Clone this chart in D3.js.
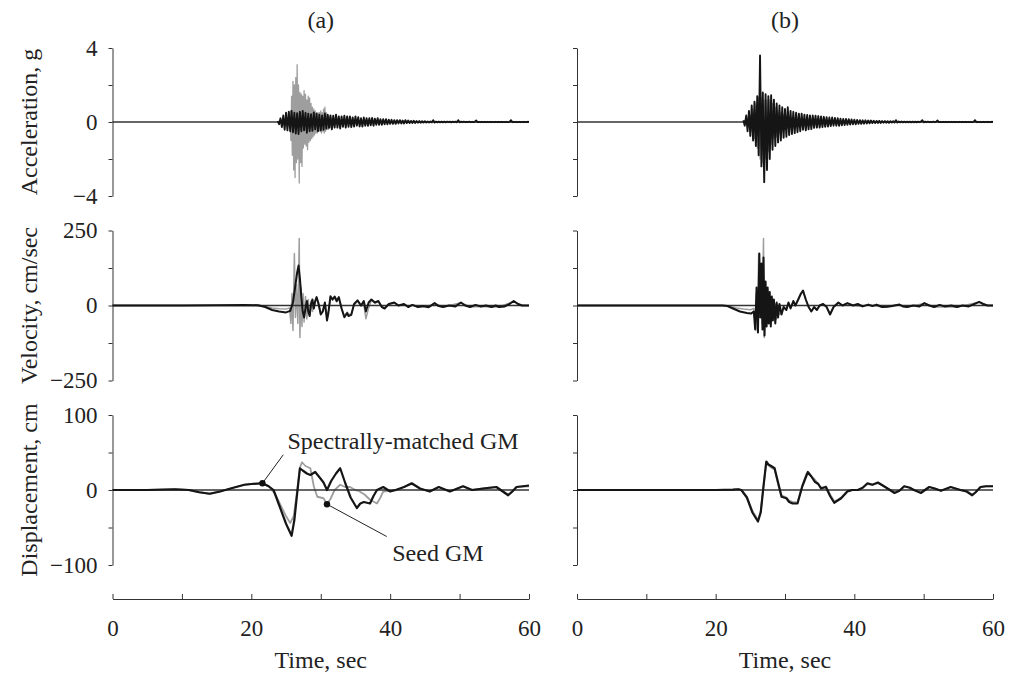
<!DOCTYPE html>
<html lang="en">
<head>
<meta charset="UTF-8">
<title>Seed GM vs spectrally-matched GM</title>
<script src="https://d3js.org/d3.v7.min.js"></script>
<style>
  body { margin: 0; background: #fff; }
  svg { display: block; }
  text { font-family: "Liberation Serif", "DejaVu Serif", serif; fill: #222; }
  .axis path, .axis line { stroke: #333; stroke-width: 1; fill: none; }
  .axis text { font-size: 23px; fill: #222; }
</style>
</head>
<body>
<svg width="1010" height="675"></svg>
<script>
// ---- data ----
const timeTicks = [0, 10, 20, 30, 40, 50, 60];
const timeTickLabels = [0, 20, 40, 60];
const accTicks = [-4, -2, 0, 2, 4];
const velTicks = [-250, -125, 0, 125, 250];
const dispTicks = [-100, -50, 0, 50, 100];

// acceleration (g), regularly sampled
const accDt = 0.2;
const accAMatchedStart = 23.8;
const accAMatched = [
  0.05, -0.12, 0.2, -0.28, 0.35, -0.42, 0.5, -0.45, 0.55, -0.5,
  0.6, -0.55, 0.5, -0.62, 0.48, -0.65, 0.55, -0.5, 0.6, -0.45,
  0.5, -0.58, 0.45, -0.5, 0.42, -0.48, 0.52, -0.4, 0.45, -0.5,
  0.4, -0.45, 0.36, -0.42, 0.46, -0.36, 0.4, -0.32, 0.36, -0.4,
  0.34, -0.3, 0.4, -0.3, 0.3, -0.35, 0.3, -0.26, 0.34, -0.3,
  0.3, -0.26, 0.3, -0.28, 0.25, -0.25, 0.3, -0.2, 0.26, -0.24,
  0.2, -0.25, 0.24, -0.2, 0.2, -0.2, 0.2, -0.18, 0.22, -0.2,
  0.18, -0.15, 0.2, -0.15, 0.15, -0.15, 0.15, -0.12, 0.15, -0.12,
  0.12, -0.1, 0.12, -0.1, 0.1, -0.1, 0.1, -0.08, 0.1, -0.08,
  0.08, -0.08, 0.1, -0.06, 0.08, -0.06, 0.06, -0.05, 0.07, -0.05,
  0.05, -0.04, 0.05, -0.04, 0.04, -0.03, 0.04, -0.03, 0.03, -0.03,
  0.03, -0.02, 0.1, -0.03, 0.02, -0.02, 0.02, -0.02, 0.02, -0.02,
  0.02, -0.02, 0.02, -0.01, 0.02, -0.02, 0.02, -0.01, 0.02, -0.02,
  0.1, -0.02, 0.02, -0.01, 0.02, -0.01, 0.01, -0.01, 0.02, -0.01,
  0.01, -0.01, 0.01, 0.08, -0.01, 0.01, -0.01, 0.01, -0.01, 0.01,
  -0.01, 0.01, -0.01, 0.01, -0.01, 0.01, -0.01, 0.01, -0.01, 0.01,
  -0.01, 0.01, -0.01, 0.01, -0.01, 0.01, -0.01, 0.01, 0.1, -0.01,
  0.01, -0.01, 0.01, -0.01, 0.01, -0.01, 0.01, -0.01, 0.01, -0.01,
  0.01, 0
];
const accASeedStart = 25.4;
const accASeedDt = 0.1;
const accASeed = [
  0.1, -0.3, 0.6, -1.0, 1.4, -1.8, 2.2, -2.6, 2.0, -3.0,
  2.4, -2.2, 3.1, -2.0, 2.0, -3.3, 1.6, -2.2, 1.5, -2.4,
  1.4, -1.4, 1.7, -1.2, 1.5, -1.3, 1.2, -1.5, 1.4, -1.1,
  1.3, -1.0, 1.0, -0.9, 0.8, -0.8, 0.7, -0.7, 0.6, -0.6,
  0.5, -0.6, 0.5, -0.5, 0.5, -0.5, 0.6, -0.6, 0.5, -0.5,
  0.7, -0.6, 0.8, -0.5, 0.5, -0.4, 0.4, -0.4, 0.3, -0.3,
  0.3, -0.3, 0.2, -0.2, 0.2, -0.2, 0.1, -0.1, 0.05, 0
];
const accBMatchedStart = 24.0;
const accBMatched = [
  0.1, -0.2, 0.35, -0.5, 0.6, -0.75, 0.9, -1.0, 1.1, -1.3,
  1.4, -1.8, 3.6, -2.4, 1.6, -3.25, 1.5, -2.6, 1.4, -2.0,
  1.45, -1.5, 1.2, -1.3, 1.0, -1.1, 0.9, -1.0, 0.8, -0.85,
  0.7, -0.8, 0.8, -0.7, 0.6, -0.65, 0.55, -0.6, 0.5, -0.55,
  0.45, -0.5, 0.45, -0.42, 0.4, -0.45, 0.38, -0.4, 0.36, -0.38,
  0.35, -0.32, 0.34, -0.3, 0.32, -0.3, 0.3, -0.28, 0.28, -0.26,
  0.26, -0.25, 0.24, -0.22, 0.24, -0.2, 0.22, -0.2, 0.2, -0.2,
  0.18, -0.18, 0.17, -0.16, 0.16, -0.15, 0.15, -0.14, 0.14, -0.12,
  0.12, -0.12, 0.11, -0.1, 0.1, -0.1, 0.09, -0.09, 0.09, -0.08,
  0.08, -0.07, 0.08, -0.06, 0.07, -0.06, 0.06, -0.05, 0.06, -0.05,
  0.05, -0.04, 0.05, -0.04, 0.04, -0.04, 0.04, -0.03, 0.04, -0.03,
  0.1, -0.03, 0.03, -0.02, 0.03, -0.02, 0.02, -0.02, 0.02, -0.02,
  0.02, -0.02, 0.02, -0.02, 0.02, -0.02, 0.02, -0.01, 0.02, 0.1,
  -0.02, 0.02, -0.01, 0.02, -0.01, 0.01, -0.01, 0.02, -0.01, 0.01,
  0.08, -0.01, 0.01, -0.01, 0.01, -0.01, 0.01, -0.01, 0.01, -0.01,
  0.01, -0.01, 0.01, -0.01, 0.01, -0.01, 0.01, -0.01, 0.01, -0.01,
  0.01, -0.01, 0.01, -0.01, 0.01, -0.01, 0.01, 0.1, -0.01, 0.01,
  -0.01, 0.01, -0.01, 0.01, -0.01, 0.01, -0.01, 0.01, -0.01, 0.01,
  0
];
const accBSeedStart = 25.0;
const accBSeed = [
  0.3, -0.5, 0.7, -0.9, 1.0, -1.4, 1.3, -2.0, 1.3, -2.2,
  1.2, -2.0, 1.2, -1.6, 1.2, -1.2, 1.0, -0.9, 0.8, -0.8,
  0.6, -0.6, 0.5, -0.5, 0.4, -0.4, 0.3, -0.3, 0.2, -0.2, 0
];

// velocity (cm/sec), [time, value]
const velAMatched = [[0,0],[10,0],[15,1],[19,2],[21,1],[22,-5],[23,-15],[24,-20],[25,-23],[25.6,-18],
  [26.0,10],[26.3,60],[26.6,110],[26.8,133],[27.0,90],[27.2,30],[27.4,-20],[27.6,-40],[27.8,-10],[28.0,15],
  [28.2,-20],[28.4,-35],[28.6,5],[28.8,20],[29.0,-10],[29.2,15],[29.4,28],[29.7,5],[30.0,-30],[30.3,-20],
  [30.6,10],[30.9,-50],[31.1,-25],[31.4,31],[31.7,20],[32.0,30],[32.3,15],[32.6,28],[33.0,-10],[33.4,-39],
  [33.8,-25],[34.0,-35],[34.4,-31],[34.8,5],[35.3,17],[35.8,0],[36.2,15],[36.5,-20],[36.9,10],[37.3,20],
  [37.8,10],[38.3,15],[38.8,-5],[39.2,-10],[39.8,5],[40.6,10],[41.2,0],[42.0,5],[42.6,-5],[43.2,2],
  [44,-5],[44.8,-2],[45.5,-6],[46.4,8],[47,-2],[47.6,-5],[48.5,0],[49.4,-3],[50.2,10],[50.8,0],
  [51.5,-5],[52.3,2],[53,-3],[53.8,0],[54.6,-5],[55.2,0],[55.7,-5],[56.5,-3],[57.2,5],[57.8,15],
  [58.4,5],[59.0,0],[60,0]];
const velASeed = [[0,0],[20,0],[22,-3],[23,-8],[24,-11],[25,-12],[25.5,-8],[25.7,-60],[25.85,40],[26.0,-83],
  [26.2,173],[26.35,-40],[26.5,70],[26.7,-60],[26.9,223],[27.0,-107],[27.15,60],[27.3,-70],[27.45,40],[27.6,-55],
  [27.8,30],[28.0,-45],[28.2,20],[28.4,-35],[28.6,15],[28.8,-20],[29.0,5],[29.4,25],[29.7,0],[30.0,-28],
  [30.3,-15],[30.6,8],[30.9,-45],[31.1,-20],[31.4,28],[31.7,18],[32.0,26],[32.3,12],[32.6,24],[33.0,-8],
  [33.4,-35],[33.8,-22],[34.0,-30],[34.4,-28],[34.8,2],[35.3,14],[35.8,-2],[36.2,5],[36.5,-44],[36.9,-8],
  [37.3,18],[37.8,8],[38.3,12],[38.8,-5],[39.2,-8],[39.8,4],[40.6,8],[41.2,0],[42,4],[42.6,-5],
  [43.2,2],[44,-5],[45.5,-5],[46.4,7],[47.6,-5],[48.5,0],[50.2,9],[51.5,-5],[53,-3],[54.6,-5],
  [55.7,-5],[57.8,14],[59,0],[60,0]];
const velBMatched = [[0,0],[21,0],[21.7,-2],[22.5,-10],[23.5,-20],[24.5,-25],[25.1,-27],[25.5,-20],[25.7,-80],[25.9,60],
  [26.1,-90],[26.3,173],[26.45,-40],[26.6,140],[26.75,-80],[26.9,160],[27.05,-100],[27.2,80],[27.35,-70],[27.5,60],
  [27.65,-60],[27.8,45],[27.95,-70],[28.1,30],[28.25,-50],[28.4,20],[28.6,-60],[28.8,10],[29.0,-40],[29.2,5],
  [29.5,-30],[29.8,-5],[30.2,-15],[30.5,10],[30.8,-10],[31.2,15],[31.5,0],[31.9,20],[32.3,40],[32.6,50],
  [33.0,20],[33.4,-5],[33.8,-20],[34.2,-5],[34.6,-15],[35.0,0],[35.5,5],[36.0,-5],[36.5,-30],[37.0,-5],
  [37.7,10],[38.3,0],[39,8],[39.8,0],[40.5,5],[41.2,-3],[42,3],[42.6,-2],[43.2,3],[44,-5],
  [44.8,-4],[45.5,-2],[46.5,3],[47,-3],[47.6,-5],[48.5,0],[49.4,-3],[50.1,8],[50.8,0],[51.5,-5],
  [52.3,2],[53,-3],[54,0],[54.8,-5],[55.6,0],[56.5,-3],[57.3,5],[58,12],[58.6,5],[59.2,0],[60,0]];
const velBSeed = [[0,0],[21,0],[22,-3],[23,-8],[24,-12],[25,-14],[25.5,-10],[25.7,-60],[25.85,40],[26.0,-83],
  [26.2,173],[26.35,-40],[26.5,70],[26.7,-60],[26.9,223],[27.0,-107],[27.15,60],[27.3,-70],[27.45,40],[27.6,-55],
  [27.8,30],[28.0,-50],[28.2,20],[28.4,-40],[28.6,5],[28.8,-45],[29.0,0],[29.2,-30],[29.5,-25],[29.8,-5],
  [30.2,-12],[30.5,8],[30.8,-8],[31.2,12],[31.5,0],[31.9,18],[32.3,38],[32.6,46],[33.0,20],[33.4,-3],
  [33.8,-18],[34.2,-5],[34.6,-12],[35.0,0],[35.5,5],[36.0,-5],[36.5,-28],[37.0,-5],[37.7,8],[38.3,0],
  [39,6],[40,0],[41.2,-3],[42,3],[44,-5],[46.5,3],[47.6,-5],[50.1,7],[51.5,-5],[54.8,-5],
  [58,11],[59.2,0],[60,0]];

// displacement (cm), [time, value]
const dispAMatched = [[0,0],[5,0],[9,1],[11,0],[12.5,-3],[14,-5],[15.5,-2],[17,2],[19,7],[20,8],
  [21.6,9],[22.5,5],[23.2,0],[24,-20],[25,-45],[25.8,-61],[26.2,-40],[26.6,-5],[27.0,29],[27.4,26],
  [28,22],[28.5,20],[29.2,24],[29.9,16],[30.4,10],[30.9,0],[31.5,12],[32.2,22],[32.8,29],[33.5,10],
  [34.3,-10],[35.2,-24],[35.7,-18],[36.2,-16],[37.1,-18],[37.6,-8],[38.1,0],[39,4],[40,-2],[40.8,0],
  [42,4],[43.1,9],[44.3,2],[45.7,-2],[47,4],[48.6,-2],[50.5,5],[51.8,0],[53.4,2],[55.3,4],
  [57,-7],[57.6,-2],[58.2,4],[60,6]];
const dispASeed = [[0,0],[5,0],[9,1],[11,0],[12.5,-3],[14,-5],[15.5,-2],[17,2],[19,7],[20,8],
  [21.6,9],[22.6,4],[23.4,-5],[24.2,-20],[25,-35],[25.6,-44],[26.1,-35],[26.6,0],[27.0,30],[27.3,37],
  [27.8,32],[28.5,29],[29.0,5],[29.5,-9],[30.4,-11],[30.9,-19],[31.4,-12],[32,0],[32.8,7],[33.5,4],
  [34.2,4],[35,0],[35.6,-2],[36.3,-6],[37.1,-13],[38.1,-18],[38.6,-10],[39,-2],[40,-1],[40.8,0],
  [42,4],[43.1,8],[44.3,2],[45.7,-2],[47,4],[48.6,-2],[50.5,5],[51.8,0],[53.4,2],[55.3,4],
  [57,-6],[57.6,-2],[58.2,4],[60,5]];
const dispBMatched = [[0,0],[20,0],[22.5,0.5],[23.3,1],[23.7,0],[24.5,-10],[25.3,-30],[26.1,-42],[26.5,-30],[26.9,5],
  [27.3,38],[27.6,34],[28.0,32],[28.5,29],[29.0,10],[29.5,-9],[30.2,-11],[30.6,-16],[31.1,-18],[31.8,-18],
  [32.5,5],[33.3,24],[33.8,18],[34.3,11],[34.8,8],[35.2,2],[35.9,4],[36.5,-8],[37.1,-17],[37.6,-14],
  [38.1,-11],[39,-2],[39.7,0],[40.5,0],[41.2,3],[41.9,9],[42.6,7],[43.4,10],[44.1,6],[44.8,2],
  [45.8,-4],[46.5,-1],[47.2,5],[48,3],[48.6,0],[49.6,-4],[50.8,4],[51.6,2],[52.5,-1],[53.9,4],
  [54.6,2],[55.3,0],[56.2,-2],[57,-7],[57.5,-3],[58.2,4],[59,5],[60,5]];
const dispBSeed = [[0,0],[20,0],[22.5,0.5],[23.3,1],[23.7,0],[24.5,-9],[25.3,-28],[26.1,-40],[26.5,-28],[26.9,5],
  [27.3,36],[27.6,33],[28.0,30],[28.5,27],[29.0,8],[29.5,-7],[30.2,-10],[30.6,-14],[31.1,-16],[31.8,-17],
  [32.5,6],[33.1,22],[33.6,20],[34.3,14],[34.8,8],[35.2,3],[35.9,5],[36.5,-6],[37.1,-15],[37.6,-13],
  [38.1,-10],[39,-1],[39.7,0],[40.5,0],[41.2,3],[41.9,8],[42.6,7],[43.4,9],[44.1,6],[44.8,2],
  [45.8,-3],[46.5,-1],[47.2,5],[48,3],[48.6,0],[49.6,-3],[50.8,4],[51.6,2],[52.5,-1],[53.9,4],
  [54.6,2],[55.3,0],[56.2,-2],[57,-6],[57.5,-3],[58.2,4],[59,5],[60,5]];

// annotation anchors (time, displacement) in panel (a)
const notes = [
  { label: 'Spectrally-matched GM', t: 21.6, v: 9, lineT: 24.6, lineV: 47, textT: 25.2, textV: 55 },
  { label: 'Seed GM', t: 30.9, v: -19, lineT: 39.5, lineV: -62, textT: 40.3, textV: -95 }
];

// ---- drawing ----
const svg = d3.select('svg');
const regular = (start, dt, vals) => vals.map((v, i) => [start + i * dt, v]);

const seedColor = '#9e9e9e';
const matchedColor = '#151515';

const columns = [
  { title: '(a)', x: d3.scaleLinear().domain([0, 60]).range([112.5, 529]), labels: true,
    traces: [
      [regular(accASeedStart, accASeedDt, accASeed), regular(accAMatchedStart, accDt, accAMatched)],
      [velASeed, velAMatched],
      [dispASeed, dispAMatched]
    ] },
  { title: '(b)', x: d3.scaleLinear().domain([0, 60]).range([577, 993]), labels: false,
    traces: [
      [regular(accBSeedStart, accDt, accBSeed), regular(accBMatchedStart, accDt, accBMatched)],
      [velBSeed, velBMatched],
      [dispBSeed, dispBMatched]
    ] }
];

const rows = [
  { name: 'Acceleration, g', y: d3.scaleLinear().domain([-4, 4]).range([196, 48]), ticks: accTicks, w: [1.3, 1.9] },
  { name: 'Velocity, cm/sec', y: d3.scaleLinear().domain([-250, 250]).range([380.5, 230.5]), ticks: velTicks, w: [1.5, 2] },
  { name: 'Displacement, cm', y: d3.scaleLinear().domain([-100, 100]).range([565, 415]), ticks: dispTicks, w: [1.8, 2.2] }
];

const fmt = d3.format('d');
const axisY = 599;

columns.forEach(col => {
  const x = col.x;
  const [x0, x1] = x.range();

  svg.append('text')
    .attr('x', (x0 + x1) / 2)
    .attr('y', 28)
    .attr('text-anchor', 'middle')
    .style('font-size', '24px')
    .text(col.title);

  rows.forEach((row, ri) => {
    const y = row.y;
    const top = d3.max(row.ticks);

    svg.append('g')
      .attr('class', 'axis')
      .attr('transform', `translate(${x0},0)`)
      .call(d3.axisLeft(y)
        .tickValues(row.ticks)
        .tickSizeInner(4)
        .tickSizeOuter(0)
        .tickPadding(11)
        .tickFormat(d => col.labels && (d === 0 || Math.abs(d) === top) ? fmt(d) : ''));

    if (col.labels) {
      svg.append('text')
        .attr('transform', `translate(37,${y(0)}) rotate(-90)`)
        .attr('text-anchor', 'middle')
        .style('font-size', '24px')
        .text(row.name);
    }

    const line = d3.line().x(d => x(d[0])).y(d => y(d[1]));
    const [seed, matched] = col.traces[ri];

    svg.append('path')
      .datum(seed)
      .attr('d', line)
      .attr('fill', 'none')
      .attr('stroke', seedColor)
      .attr('stroke-width', row.w[0])
      .attr('stroke-linejoin', 'round');

    svg.append('line')
      .attr('x1', x(0)).attr('x2', x(60))
      .attr('y1', y(0)).attr('y2', y(0))
      .attr('stroke', '#333')
      .attr('stroke-width', 1.3);

    svg.append('path')
      .datum(matched)
      .attr('d', line)
      .attr('fill', 'none')
      .attr('stroke', matchedColor)
      .attr('stroke-width', row.w[1])
      .attr('stroke-linejoin', 'round');
  });

  svg.append('g')
    .attr('class', 'axis')
    .attr('transform', `translate(0,${axisY})`)
    .call(d3.axisBottom(x)
      .tickValues(timeTicks)
      .tickSizeInner(-5)
      .tickSizeOuter(0)
      .tickPadding(21)
      .tickFormat(d => timeTickLabels.includes(d) ? fmt(d) : ''));

  svg.append('text')
    .attr('x', (x0 + x1) / 2)
    .attr('y', 668)
    .attr('text-anchor', 'middle')
    .style('font-size', '24px')
    .text('Time, sec');
});

// annotations in panel (a) displacement
const ax = columns[0].x, ay = rows[2].y;
notes.forEach(n => {
  svg.append('line')
    .attr('x1', ax(n.t)).attr('y1', ay(n.v))
    .attr('x2', ax(n.lineT)).attr('y2', ay(n.lineV))
    .attr('stroke', '#222')
    .attr('stroke-width', 1);
  svg.append('circle')
    .attr('cx', ax(n.t)).attr('cy', ay(n.v))
    .attr('r', 3.2)
    .attr('fill', '#111');
  svg.append('text')
    .attr('x', ax(n.textT)).attr('y', ay(n.textV))
    .style('font-size', '24px')
    .text(n.label);
});
</script>
</body>
</html>
